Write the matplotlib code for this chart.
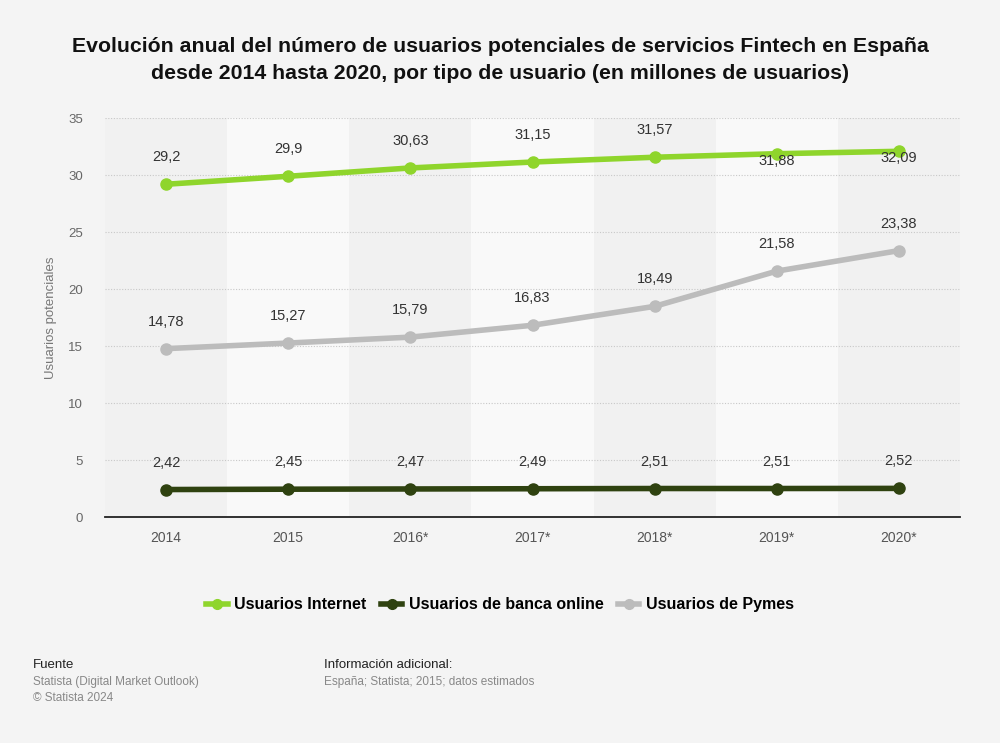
import numpy as np
import matplotlib.pyplot as plt
from matplotlib.lines import Line2D

years = ['2014', '2015', '2016*', '2017*', '2018*', '2019*', '2020*']
internet = [29.2, 29.9, 30.63, 31.15, 31.57, 31.88, 32.09]
banca = [2.42, 2.45, 2.47, 2.49, 2.51, 2.51, 2.52]
pymes = [14.78, 15.27, 15.79, 16.83, 18.49, 21.58, 23.38]

# label placement: positive = above the point, negative = below
internet_off = [27, 27, 27, 27, 27, -7, -7]
banca_off = [27, 27, 27, 27, 27, 27, 27]
pymes_off = [27, 27, 27, 27, 27, 27, 27]

C_INTERNET = '#8fd52c'
C_BANCA = '#2f4210'
C_PYMES = '#bcbcbc'
BG = '#f4f4f4'

plt.rcParams['font.family'] = ['Liberation Sans', 'DejaVu Sans']

fig = plt.figure(figsize=(10, 7.43), dpi=100, facecolor=BG)
ax = fig.add_axes([0.105, 0.304, 0.855, 0.537])
ax.set_facecolor(BG)

x = np.arange(len(years))
ax.set_xlim(-0.5, len(years) - 0.5)
ax.set_ylim(0, 35)

# alternating column bands
for i in x:
    c = '#f1f1f1' if i % 2 == 0 else '#f9f9f9'
    ax.axvspan(i - 0.5, i + 0.5, color=c, zorder=0, lw=0)

ax.set_yticks(np.arange(0, 36, 5))
ax.yaxis.grid(True, color='#c8c8c8', linestyle=(0, (1, 1.5)), linewidth=0.8)
ax.set_axisbelow(True)
for s in ['top', 'right', 'left']:
    ax.spines[s].set_visible(False)
ax.spines['bottom'].set_color('#222222')
ax.spines['bottom'].set_linewidth(1.3)

ax.set_xticks(x)
ax.set_xticklabels(years)
ax.tick_params(axis='x', length=0, pad=10, labelsize=10, labelcolor='#555555')
ax.tick_params(axis='y', length=0, pad=16, labelsize=9.5, labelcolor='#666666')
ax.set_ylabel('Usuarios potenciales', fontsize=9.5, color='#777777', labelpad=8)

series = [
    (internet, C_INTERNET, internet_off, 'Usuarios Internet'),
    (banca, C_BANCA, banca_off, 'Usuarios de banca online'),
    (pymes, C_PYMES, pymes_off, 'Usuarios de Pymes'),
]
for vals, col, offs, name in series:
    ax.plot(x, vals, color=col, lw=4, marker='o', markersize=8, zorder=3,
            solid_capstyle='round')
    for xi, v, o in zip(x, vals, offs):
        txt = f'{v:g}'.replace('.', ',')
        ax.annotate(txt, (xi, v), xytext=(0, o * 0.72), textcoords='offset points',
                    ha='center', va='center', fontsize=10.5, color='#333333', zorder=4)

fig.text(0.5, 0.919, 'Evolución anual del número de usuarios potenciales de servicios Fintech en España\n'
         'desde 2014 hasta 2020, por tipo de usuario (en millones de usuarios)',
         ha='center', va='center', fontsize=15.3, fontweight='bold', color='#111111',
         linespacing=1.5)

handles = [Line2D([], [], color=c, lw=4, marker='o', markersize=7) for _, c, _, _ in series]
fig.legend(handles, [n for *_, n in series], loc='center', bbox_to_anchor=(0.5, 0.186),
           ncol=3, frameon=False, handlelength=1.35, handletextpad=0.4, columnspacing=0.9,
           prop={'weight': 'bold', 'size': 11.5})

fig.text(0.033, 0.105, 'Fuente', fontsize=9.5, color='#222222', va='center')
fig.text(0.033, 0.082, 'Statista (Digital Market Outlook)', fontsize=8.5, color='#888888', va='center')
fig.text(0.033, 0.060, '© Statista 2024', fontsize=8.5, color='#888888', va='center')
fig.text(0.324, 0.105, 'Información adicional:', fontsize=9.5, color='#222222', va='center')
fig.text(0.324, 0.082, 'España; Statista; 2015; datos estimados', fontsize=8.5, color='#888888', va='center')

fig.savefig('out.png', dpi=100, facecolor=BG)
